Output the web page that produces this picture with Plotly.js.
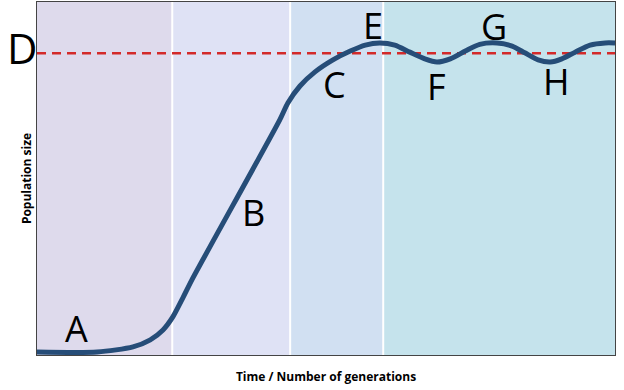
<!DOCTYPE html>
<html>
<head>
<meta charset="utf-8">
<script src="https://cdn.plot.ly/plotly-3.0.1.min.js"></script>
<style>html,body{margin:0;padding:0;background:#fff;}#chart{width:624px;height:390px;}</style>
</head>
<body>
<div id="chart"></div>
<script>
// Population curve (time in arbitrary units 0-100, size 0-100)
const timeValues = [0, 10.4, 16.6, 19.6, 21.8, 23.5, 25.3, 26.8, 42.0, 43.4, 45.5, 48.1, 51.2, 54.2, 56.8, 59.3, 61.9, 64.5, 67.1, 69.2, 71.5, 74.1, 76.6, 79.6, 82.2, 84.4, 86.7, 88.8, 90.8, 93.1, 95.7, 98.3, 100];
const populationValues = [0.85, 0.85, 2.3, 4.3, 7.1, 10.8, 16.4, 21.3, 66.6, 71.4, 76.2, 80.2, 83.6, 86.1, 87.8, 88.4, 87.8, 85.8, 83.9, 83.0, 83.9, 86.1, 88.0, 88.4, 87.5, 85.6, 83.6, 83.0, 83.9, 85.8, 87.8, 88.4, 88.4];
const carryingCapacity = 85.5;

// Phase bands (time boundaries)
const bandStarts = [0, 23.4, 43.8, 59.9];
const bandEnds = [23.4, 43.8, 59.9, 100];
const bandColors = ['#dedaec', '#dfe2f5', '#d1e0f2', '#c5e3ec'];

// Letter labels
const labelTexts = ['A', 'B', 'C', 'E', 'F', 'G', 'H'];
const labelX = [6.8, 37.4, 51.4, 58.1, 69.2, 79.1, 89.8];
const labelY = [7.6, 40.5, 76.5, 93.3, 76.2, 93.0, 77.6];
const capacityLabel = 'D';

const xTitle = 'Time / Number of generations';
const yTitle = 'Population size';

const shapes = [];
for (let i = 0; i < bandStarts.length; i++) {
  shapes.push({type: 'rect', xref: 'x', yref: 'paper', x0: bandStarts[i], x1: bandEnds[i], y0: 0, y1: 1,
    fillcolor: bandColors[i], line: {width: 0}, layer: 'below'});
}
for (let i = 1; i < bandStarts.length; i++) {
  shapes.push({type: 'line', xref: 'x', yref: 'paper', x0: bandStarts[i], x1: bandStarts[i], y0: 0, y1: 1,
    line: {color: '#ffffff', width: 2}, layer: 'below'});
}
shapes.push({type: 'line', xref: 'paper', yref: 'y', x0: 0, x1: 1, y0: carryingCapacity, y1: carryingCapacity,
  line: {color: '#d32a2a', width: 2.5, dash: '9px,6px'}, layer: 'below'});

const annotations = labelTexts.map((t, i) => ({
  x: labelX[i], y: labelY[i], xref: 'x', yref: 'y', text: t, showarrow: false,
  font: {family: 'Open Sans, sans-serif', size: 36, color: '#000'}, xanchor: 'center', yanchor: 'middle'
}));
annotations.push({x: -0.026, y: carryingCapacity + 1.5, xref: 'paper', yref: 'y', text: capacityLabel, showarrow: false,
  font: {family: 'Open Sans, sans-serif', size: 42, color: '#000'}, xanchor: 'center', yanchor: 'middle'});

const trace = {
  x: timeValues, y: populationValues, type: 'scatter', mode: 'lines',
  line: {color: '#264d78', width: 5, shape: 'spline', smoothing: 0.7},
  hoverinfo: 'skip'
};

const layout = {
  width: 624, height: 390,
  margin: {l: 37, r: 9, t: 2, b: 35},
  paper_bgcolor: '#ffffff', plot_bgcolor: '#ffffff',
  showlegend: false,
  xaxis: {range: [0, 100], showgrid: false, zeroline: false, showticklabels: false, ticks: '', automargin: false,
    showline: true, mirror: true, linecolor: '#444', linewidth: 1,
    title: {text: xTitle, standoff: 17, font: {family: 'Open Sans, sans-serif', size: 12, color: '#000', weight: 'bold'}}},
  yaxis: {range: [0, 100], showgrid: false, zeroline: false, showticklabels: false, ticks: '', automargin: false,
    showline: true, mirror: true, linecolor: '#444', linewidth: 1,
    title: {text: yTitle, standoff: 1, font: {family: 'Open Sans, sans-serif', size: 12, color: '#000', weight: 'bold'}}},
  shapes: shapes,
  annotations: annotations
};

Plotly.newPlot('chart', [trace], layout, {displayModeBar: false, staticPlot: true});
</script>
</body>
</html>
